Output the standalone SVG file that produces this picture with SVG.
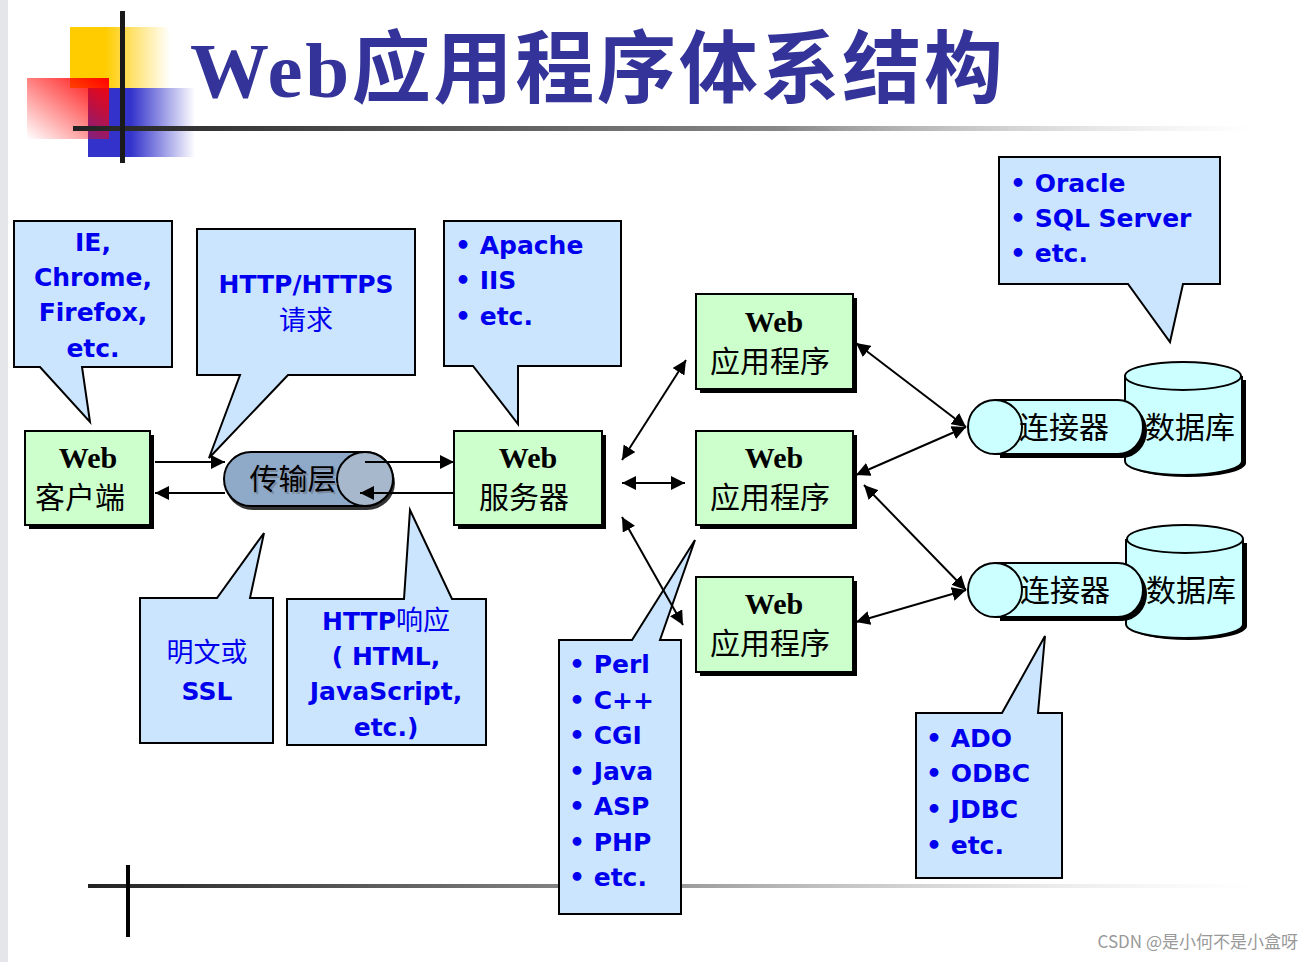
<svg xmlns="http://www.w3.org/2000/svg" width="1315" height="962" viewBox="0 0 1315 962">
<defs>
<linearGradient id="gy" x1="0" x2="1"><stop offset="0.35" stop-color="#ffcc00"/><stop offset="1" stop-color="#ffcc00" stop-opacity="0"/></linearGradient>
<linearGradient id="gb" x1="0" x2="1"><stop offset="0.4" stop-color="#3333cc"/><stop offset="1" stop-color="#3333cc" stop-opacity="0"/></linearGradient>
<linearGradient id="gr" x1="1" y1="0" x2="0" y2="1"><stop offset="0" stop-color="#ff0000"/><stop offset="1" stop-color="#ff0000" stop-opacity="0"/></linearGradient>
<linearGradient id="gl" x1="0" x2="1"><stop offset="0" stop-color="#222"/><stop offset="0.6" stop-color="#888"/><stop offset="1" stop-color="#ccc" stop-opacity="0"/></linearGradient>
<linearGradient id="gl2" x1="0" x2="1"><stop offset="0" stop-color="#222"/><stop offset="0.5" stop-color="#999"/><stop offset="1" stop-color="#ddd" stop-opacity="0"/></linearGradient>
<marker id="ar" viewBox="0 0 10 10" refX="10" refY="5" markerWidth="7" markerHeight="7" orient="auto-start-reverse"><path d="M0,0 L10,5 L0,10 z" fill="#000"/></marker>
</defs>
<style>
.co{fill:#cce5ff;stroke:#000;stroke-width:2}
.nd{fill:#ccffcc;stroke:#000;stroke-width:2}
.sh{fill:#000}
.bt{font-family:"DejaVu Sans",Verdana,sans-serif;font-weight:bold;font-size:25px;fill:#0000ee}
.bn{font-family:"Noto Sans CJK SC",sans-serif;font-size:27px;fill:#0000ee}
.wb{font-family:"Liberation Serif",serif;font-weight:bold;font-size:30px;fill:#000}
.cj{font-family:"Noto Sans CJK SC",sans-serif;font-size:30px;fill:#000}
.ln{stroke:#000;stroke-width:2;fill:none}
.cy{fill:#ccffff;stroke:#000;stroke-width:2}
</style>
<rect width="1315" height="962" fill="#fff"/>
<rect x="0" y="0" width="8" height="962" fill="#e4e6e9"/>
<g id="deco">
<rect x="70" y="27" width="100" height="61" fill="url(#gy)"/>
<rect x="88" y="88" width="107" height="69" fill="url(#gb)"/>
<rect x="27" y="78" width="82" height="61" fill="url(#gr)"/>
<rect x="73" y="126" width="1180" height="5" fill="url(#gl)"/>
<rect x="120" y="11" width="5" height="152" fill="#1a1a1a"/>
<rect x="88" y="884" width="1170" height="4" fill="url(#gl2)"/>
<rect x="126" y="865" width="4" height="72" fill="#000"/>
</g>
<text x="190" y="97" font-family="Liberation Serif,'Noto Sans CJK SC',serif" font-weight="bold" font-size="79" fill="#333399" textLength="813" lengthAdjust="spacing">Web应用程序体系结构</text>

<g id="callout-browsers"><path class="co" d="M14,221 H172 V367 H82 L90,422 L40,367 H14 Z"/>
<text class="bt" text-anchor="middle"><tspan x="93" y="251">IE,</tspan><tspan x="93" y="286">Chrome,</tspan><tspan x="93" y="321">Firefox,</tspan><tspan x="93" y="357">etc.</tspan></text></g>
<g id="callout-http"><path class="co" d="M197,229 H415 V375 H288 L209,458 L240,375 H197 Z"/>
<text class="bt" x="306" y="293" text-anchor="middle">HTTP/HTTPS</text><text class="bn" x="306" y="330" text-anchor="middle">请求</text></g>
<g id="callout-servers"><path class="co" d="M444,221 H621 V366 H518 V424 L473,366 H444 Z"/>
<text class="bt"><tspan x="455" y="254">• Apache</tspan><tspan x="455" y="289">• IIS</tspan><tspan x="455" y="325">• etc.</tspan></text></g>
<g id="callout-db"><path class="co" d="M999,157 H1220 V284 H1183 L1170,342 L1128,284 H999 Z"/>
<text class="bt"><tspan x="1010" y="192">• Oracle</tspan><tspan x="1010" y="227">• SQL Server</tspan><tspan x="1010" y="262">• etc.</tspan></text></g>
<g id="callout-ssl"><path class="co" d="M140,598 H217 L264,533 L250,598 H273 V743 H140 Z"/>
<text class="bn" x="207" y="662" text-anchor="middle">明文或</text><text class="bt" x="207" y="700" text-anchor="middle">SSL</text></g>
<g id="callout-resp"><path class="co" d="M287,599 H404 L410,510 L452,599 H486 V745 H287 Z"/>
<text text-anchor="middle"><tspan class="bt" x="386" y="630">HTTP</tspan><tspan class="bn" dx="0">响应</tspan></text>
<text class="bt" text-anchor="middle"><tspan x="386" y="665">( HTML,</tspan><tspan x="386" y="700">JavaScript,</tspan><tspan x="386" y="736">etc.)</tspan></text></g>
<g id="callout-lang"><path class="co" d="M559,640 H632 L695,540 L660,640 H681 V914 H559 Z"/>
<text class="bt"><tspan x="569" y="673">• Perl</tspan><tspan x="569" y="709">• C++</tspan><tspan x="569" y="744">• CGI</tspan><tspan x="569" y="780">• Java</tspan><tspan x="569" y="815">• ASP</tspan><tspan x="569" y="851">• PHP</tspan><tspan x="569" y="886">• etc.</tspan></text></g>
<g id="callout-conn"><path class="co" d="M916,713 H1002 L1045,636 L1038,713 H1062 V878 H916 Z"/>
<text class="bt"><tspan x="926" y="747">• ADO</tspan><tspan x="926" y="782">• ODBC</tspan><tspan x="926" y="818">• JDBC</tspan><tspan x="926" y="854">• etc.</tspan></text></g>

<g id="client"><rect class="sh" x="29" y="435" width="125" height="94"/><rect class="nd" x="25" y="431" width="125" height="94"/>
<text class="wb" x="88" y="468" text-anchor="middle">Web</text><text class="cj" x="80" y="508" text-anchor="middle">客户端</text></g>
<g id="server"><rect class="sh" x="458" y="435" width="148" height="94"/><rect class="nd" x="454" y="431" width="148" height="94"/>
<text class="wb" x="528" y="468" text-anchor="middle">Web</text><text class="cj" x="524" y="508" text-anchor="middle">服务器</text></g>
<g id="app1"><rect class="sh" x="700" y="298" width="157" height="95"/><rect class="nd" x="696" y="294" width="157" height="95"/>
<text class="wb" x="774" y="332" text-anchor="middle">Web</text><text class="cj" x="770" y="372" text-anchor="middle">应用程序</text></g>
<g id="app2"><rect class="sh" x="700" y="435" width="157" height="94"/><rect class="nd" x="696" y="431" width="157" height="94"/>
<text class="wb" x="774" y="468" text-anchor="middle">Web</text><text class="cj" x="770" y="508" text-anchor="middle">应用程序</text></g>
<g id="app3"><rect class="sh" x="700" y="581" width="157" height="95"/><rect class="nd" x="696" y="577" width="157" height="95"/>
<text class="wb" x="774" y="614" text-anchor="middle">Web</text><text class="cj" x="770" y="654" text-anchor="middle">应用程序</text></g>

<g id="transport">
<path d="M253,456 H367 A28,27 0 0 1 367,510 H253 A28,27 0 0 1 253,456 Z" fill="#333"/>
<path d="M251,452 H365 A28,27 0 0 1 365,506 H251 A27,27 0 0 1 251,452 Z" fill="#8fa9c9" stroke="#000" stroke-width="2"/>
<ellipse cx="365" cy="479" rx="28" ry="27" fill="#a8b8cc" stroke="#000" stroke-width="2"/>
<text x="295" y="492" text-anchor="middle" font-family="'Noto Sans CJK SC',sans-serif" font-size="29" fill="#7a8ba0">传输层</text>
<text x="293" y="490" text-anchor="middle" font-family="'Noto Sans CJK SC',sans-serif" font-size="29" fill="#000">传输层</text>
</g>

<g id="db1"><path d="M1129,380 V463 A58,14 0 0 0 1246,463 V380" fill="#000"/>
<path class="cy" d="M1125,376 V461 A58,14 0 0 0 1242,461 V376"/><ellipse class="cy" cx="1183" cy="376" rx="58" ry="14"/>
<text class="cj" x="1190" y="438" text-anchor="middle" font-size="28">数据库</text></g>
<g id="db2"><path d="M1130,543 V626 A58,14 0 0 0 1247,626 V543" fill="#000"/>
<path class="cy" d="M1126,539 V624 A58,14 0 0 0 1243,624 V539"/><ellipse class="cy" cx="1185" cy="539" rx="58" ry="14"/>
<text class="cj" x="1191" y="601" text-anchor="middle" font-size="28">数据库</text></g>
<g id="conn1"><path d="M1000,404 H1122 A25,27 0 0 1 1122,458 H1000 Z" fill="#000"/>
<path class="cy" d="M995,400 H1118 A25,27 0 0 1 1118,454 H995 Z"/><ellipse class="cy" cx="995" cy="427" rx="27" ry="27"/>
<text class="cj" x="1064" y="438" text-anchor="middle" font-size="28">连接器</text></g>
<g id="conn2"><path d="M1000,567 H1122 A25,27 0 0 1 1122,621 H1000 Z" fill="#000"/>
<path class="cy" d="M995,563 H1118 A25,27 0 0 1 1118,617 H995 Z"/><ellipse class="cy" cx="995" cy="590" rx="27" ry="27"/>
<text class="cj" x="1065" y="601" text-anchor="middle" font-size="28">连接器</text></g>

<g id="connectors">
<line class="ln" x1="155" y1="462" x2="225" y2="462" marker-end="url(#ar)"/>
<line class="ln" x1="365" y1="462" x2="454" y2="462" marker-end="url(#ar)"/>
<line class="ln" x1="454" y1="493" x2="360" y2="493" marker-end="url(#ar)"/>
<line class="ln" x1="225" y1="493" x2="155" y2="493" marker-end="url(#ar)"/>
<line class="ln" x1="622" y1="460" x2="686" y2="360" marker-start="url(#ar)" marker-end="url(#ar)"/>
<line class="ln" x1="622" y1="483" x2="685" y2="483" marker-start="url(#ar)" marker-end="url(#ar)"/>
<line class="ln" x1="622" y1="517" x2="683" y2="625" marker-start="url(#ar)" marker-end="url(#ar)"/>
<line class="ln" x1="856" y1="343" x2="966" y2="427" marker-start="url(#ar)" marker-end="url(#ar)"/>
<line class="ln" x1="856" y1="475" x2="966" y2="427" marker-start="url(#ar)" marker-end="url(#ar)"/>
<line class="ln" x1="864" y1="485" x2="966" y2="590" marker-start="url(#ar)" marker-end="url(#ar)"/>
<line class="ln" x1="856" y1="622" x2="966" y2="590" marker-start="url(#ar)" marker-end="url(#ar)"/>
</g>
<text x="1298" y="948" text-anchor="end" font-family="'Noto Sans CJK SC',sans-serif" font-size="17" fill="#999">CSDN @是小何不是小盒呀</text>
</svg>
